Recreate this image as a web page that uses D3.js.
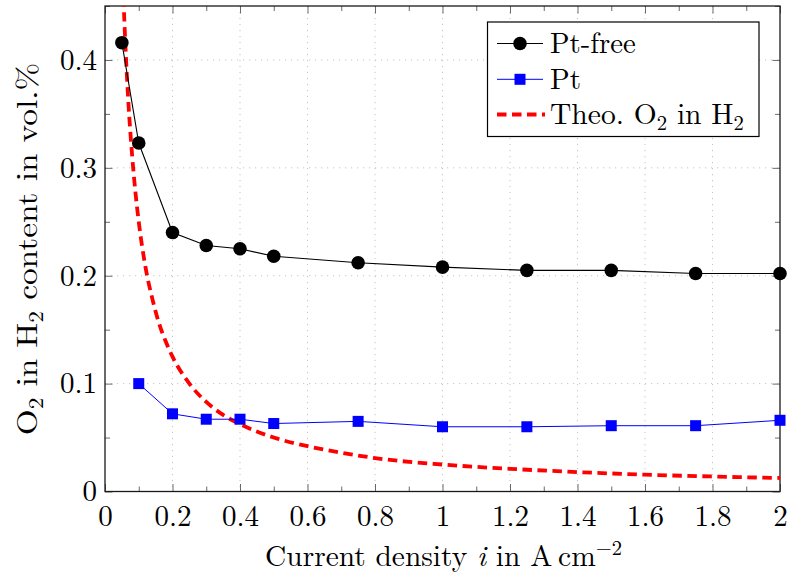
<!DOCTYPE html>
<html><head><meta charset="utf-8">
<script src="https://cdn.jsdelivr.net/npm/d3@7"></script>
<style>
body{margin:0;background:#fff}
</style>
</head><body><svg id="c" width="788" height="573"></svg>
<script>
// ---- data ----
const xPtFree=[0.05,0.1,0.2,0.3,0.4,0.5,0.75,1,1.25,1.5,1.75,2];
const yPtFree=[0.416,0.323,0.240,0.228,0.225,0.218,0.212,0.208,0.205,0.205,0.202,0.202];
const xPt=[0.1,0.2,0.3,0.4,0.5,0.75,1,1.25,1.5,1.75,2];
const yPt=[0.100,0.072,0.067,0.067,0.063,0.065,0.060,0.060,0.061,0.061,0.066];
const xTheo=[0.05,0.055,0.06,0.07,0.08,0.09,0.1,0.12,0.14,0.16,0.18,0.2,0.25,0.3,0.35,0.4,0.5,0.6,0.7,0.8,1,1.2,1.4,1.6,1.8,2];
const yTheo=[0.5,0.455,0.417,0.357,0.313,0.278,0.25,0.208,0.179,0.156,0.139,0.125,0.1,0.083,0.071,0.0625,0.05,0.042,0.036,0.031,0.025,0.021,0.018,0.0156,0.0139,0.0125];
const xTicks=[0,0.2,0.4,0.6,0.8,1,1.2,1.4,1.6,1.8,2];
const xTickLabels=["0","0.2","0.4","0.6","0.8","1","1.2","1.4","1.6","1.8","2"];
const xMinor=[0.1,0.3,0.5,0.7,0.9,1.1,1.3,1.5,1.7,1.9];
const yTicks=[0,0.1,0.2,0.3,0.4];
const yTickLabels=["0","0.1","0.2","0.3","0.4"];
const yMinor=[0.05,0.15,0.25,0.35,0.45];
const seriesNames=["Pt-free","Pt","Theo. O2 in H2"];

// ---- layout ----
const W=788,H=573, L=105, R=780, T=6, B=491.5;
const FS=29;
const FONT="Latin Modern Roman";
const svg=d3.select("#c");
const x=d3.scaleLinear().domain([0,2]).range([L,R]);
const y=d3.scaleLinear().domain([0,0.45]).range([B,T]);

svg.append("defs").append("clipPath").attr("id","clip")
  .append("rect").attr("x",L).attr("y",T).attr("width",R-L).attr("height",B-T);

// grid
const grid=svg.append("g");
grid.selectAll(".gx").data(xTicks.slice(1,-1)).join("line")
  .attr("x1",d=>x(d)).attr("x2",d=>x(d)).attr("y1",T).attr("y2",B)
  .attr("stroke","#c4c4c4").attr("stroke-width",1).attr("stroke-dasharray","1.2,4.8");
grid.selectAll(".gy").data(yTicks.slice(1)).join("line")
  .attr("y1",d=>y(d)).attr("y2",d=>y(d)).attr("x1",L).attr("x2",R)
  .attr("stroke","#c4c4c4").attr("stroke-width",1).attr("stroke-dasharray","1.2,4.8");

// axes (inward ticks)
function styleAxis(g){
  g.attr("font-family",FONT).attr("font-size",FS);
  g.select(".domain").remove();
  g.selectAll(".tick line").attr("stroke","#6a6a6a").attr("stroke-width",1);
  g.selectAll("text").attr("font-family",FONT).style("font-family",FONT).style("font-size",FS+"px").attr("fill","#000");
}
svg.append("g").attr("transform",`translate(0,${B})`)
  .call(d3.axisBottom(x).tickValues(xTicks).tickSize(-7.5).tickPadding(14).tickFormat((d,i)=>xTickLabels[i]))
  .call(styleAxis);
svg.append("g").attr("transform",`translate(0,${B})`)
  .call(d3.axisBottom(x).tickValues(xMinor).tickSize(-5).tickFormat(""))
  .call(styleAxis);
svg.append("g").attr("transform",`translate(0,${T})`)
  .call(d3.axisTop(x).tickValues(xTicks).tickSize(-7.5).tickFormat(""))
  .call(styleAxis);
svg.append("g").attr("transform",`translate(0,${T})`)
  .call(d3.axisTop(x).tickValues(xMinor).tickSize(-5).tickFormat(""))
  .call(styleAxis);
svg.append("g").attr("transform",`translate(${L},0)`)
  .call(d3.axisLeft(y).tickValues(yTicks).tickSize(-7.5).tickPadding(8).tickFormat((d,i)=>yTickLabels[i]))
  .call(styleAxis);
svg.append("g").attr("transform",`translate(${L},0)`)
  .call(d3.axisLeft(y).tickValues(yMinor).tickSize(-5).tickFormat(""))
  .call(styleAxis);
svg.append("g").attr("transform",`translate(${R},0)`)
  .call(d3.axisRight(y).tickValues(yTicks).tickSize(-7.5).tickFormat(""))
  .call(styleAxis);
svg.append("g").attr("transform",`translate(${R},0)`)
  .call(d3.axisRight(y).tickValues(yMinor).tickSize(-5).tickFormat(""))
  .call(styleAxis);

// frame
svg.append("rect").attr("x",L).attr("y",T).attr("width",R-L).attr("height",B-T)
  .attr("fill","none").attr("stroke","#1a1a1a").attr("stroke-width",1.3);

// series
const line=d3.line().x(d=>x(d[0])).y(d=>y(d[1]));
const theo=xTheo.map((v,i)=>[v,yTheo[i]]);
const ptfree=xPtFree.map((v,i)=>[v,yPtFree[i]]);
const pt=xPt.map((v,i)=>[v,yPt[i]]);

svg.append("path").datum(theo).attr("clip-path","url(#clip)")
  .attr("d",d3.line().x(d=>x(d[0])).y(d=>y(d[1])).curve(d3.curveMonotoneX))
  .attr("fill","none").attr("stroke","#ff0000").attr("stroke-width",3.8).attr("stroke-dasharray","9.5,5.5");

svg.append("path").datum(ptfree).attr("clip-path","url(#clip)").attr("d",line)
  .attr("fill","none").attr("stroke","#000").attr("stroke-width",1.1);
svg.append("path").datum(pt).attr("clip-path","url(#clip)").attr("d",line)
  .attr("fill","none").attr("stroke","#0000ff").attr("stroke-width",1.0);

svg.selectAll(".c").data(ptfree).join("circle")
  .attr("cx",d=>x(d[0])).attr("cy",d=>y(d[1])).attr("r",6.8).attr("fill","#000");
const S=11;
svg.selectAll(".s").data(pt).join("rect")
  .attr("x",d=>x(d[0])-S/2).attr("y",d=>y(d[1])-S/2).attr("width",S).attr("height",S).attr("fill","#0000ff");

// text helpers
function mkText(parent, tx, ty, rot, anchor, parts, targetW){
  const g=parent.append("g");
  const t=g.append("text").attr("x",0).attr("y",0).attr("text-anchor",anchor)
    .attr("font-family",FONT).style("font-family",FONT).style("font-size",FS+"px").attr("fill","#000");
  let pending=0;
  parts.forEach(p=>{
    const s=t.append("tspan").text(p[0]);
    let dy=pending; pending=0;
    if(p[1]==="sub"){s.style("font-size",(FS*0.7)+"px"); dy+=6; pending=-6;}
    else if(p[1]==="sup"){s.style("font-size",(FS*0.7)+"px"); dy+=-11; pending=11;}
    else if(p[1]==="it"){s.style("font-style","italic");}
    if(dy!==0) s.attr("dy",dy);
  });
  let sx=1;
  if(targetW){const w=t.node().getBBox().width; if(w>0) sx=Math.max(0.9,Math.min(1.15,targetW/w));}
  g.attr("transform",`translate(${tx},${ty}) rotate(${rot}) scale(${sx},1)`);
  return g;
}

// legend
const lg=svg.append("g");
lg.append("rect").attr("x",487.5).attr("y",22).attr("width",271.5).attr("height",114.5)
  .attr("fill","#fff").attr("stroke","#000").attr("stroke-width",1.2);
const rows=[43.5,79.3,114.5];
const lx1=497,lx2=543,lmx=520,ltx=550;
lg.append("line").attr("x1",lx1).attr("x2",lx2).attr("y1",rows[0]).attr("y2",rows[0]).attr("stroke","#000").attr("stroke-width",1.1);
lg.append("circle").attr("cx",lmx).attr("cy",rows[0]).attr("r",6.8).attr("fill","#000");
lg.append("line").attr("x1",lx1).attr("x2",lx2).attr("y1",rows[1]).attr("y2",rows[1]).attr("stroke","#0000ff").attr("stroke-width",1);
lg.append("rect").attr("x",lmx-S/2).attr("y",rows[1]-S/2).attr("width",S).attr("height",S).attr("fill","#0000ff");
lg.append("line").attr("x1",lx1).attr("x2",lx2+2).attr("y1",rows[2]).attr("y2",rows[2]).attr("stroke","#ff0000").attr("stroke-width",3.8).attr("stroke-dasharray","9.5,5.5");
mkText(lg, ltx, rows[0]+9.5, 0, "start", [[seriesNames[0]]], 86);
mkText(lg, ltx, rows[1]+9.5, 0, "start", [[seriesNames[1]]], 31);
mkText(lg, ltx, rows[2]+9.5, 0, "start", [["Theo. O"],["2","sub"],[" in H"],["2","sub"]], 194);

// axis titles
mkText(svg, 443.5, 566, 0, "middle", [["Current density "],["i","it"],[" in A\u2009cm"],["\u22122","sup"]], 357);
mkText(svg, 37, 249, -90, "middle", [["O"],["2","sub"],[" in H"],["2","sub"],[" content in vol.%"]], 382);
</script></body></html>
